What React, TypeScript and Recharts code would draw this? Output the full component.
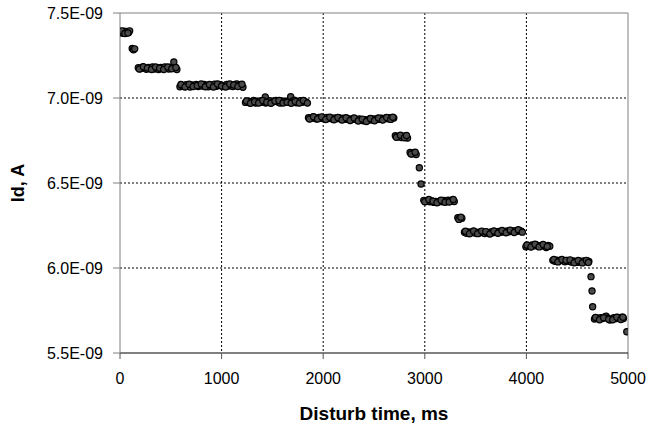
import React from "react";
import {
  ScatterChart,
  Scatter,
  XAxis,
  YAxis,
  CartesianGrid,
  ReferenceLine,
} from "recharts";

// Drain current Id in units of 1E-09 A, time in ms: [t, Id]
const step1: [number, number][] = [
  [10, 7.388], [25, 7.381], [40, 7.393], [55, 7.384], [70, 7.391], [85, 7.386], [95, 7.395],
  [18, 7.395], [48, 7.379], [78, 7.382],
];
const step2: [number, number][] = [
  [120, 7.291], [132, 7.284], [145, 7.289],
];
const step3: [number, number][] = [
  [180, 7.178], [200, 7.172], [220, 7.181], [240, 7.175], [260, 7.169], [280, 7.18],
  [300, 7.174], [320, 7.183], [340, 7.171], [360, 7.177], [380, 7.168], [400, 7.179],
  [420, 7.173], [440, 7.182], [460, 7.176], [480, 7.17], [500, 7.181], [520, 7.178],
  [530, 7.212], [540, 7.174], [560, 7.168],
  [190, 7.17], [230, 7.184], [270, 7.176], [310, 7.168], [350, 7.182], [390, 7.175],
  [430, 7.167], [470, 7.183], [510, 7.172], [550, 7.18],
];
const step4: [number, number][] = [
  [590, 7.066], [610, 7.074], [630, 7.069], [650, 7.078], [670, 7.071], [690, 7.065],
  [710, 7.077], [730, 7.072], [750, 7.08], [770, 7.068], [790, 7.075], [810, 7.07],
  [830, 7.079], [850, 7.073], [870, 7.066], [890, 7.076], [910, 7.071], [930, 7.081],
  [950, 7.069], [970, 7.074], [990, 7.078], [1010, 7.067], [1030, 7.073], [1050, 7.08],
  [1070, 7.07], [1090, 7.075], [1110, 7.068], [1130, 7.079], [1150, 7.082], [1170, 7.074],
  [1190, 7.077], [1210, 7.063],
  [600, 7.079], [640, 7.064], [680, 7.081], [720, 7.067], [760, 7.074], [800, 7.082],
  [840, 7.066], [880, 7.08], [920, 7.065], [960, 7.083], [1000, 7.071], [1040, 7.065],
  [1080, 7.082], [1120, 7.076], [1160, 7.067], [1200, 7.081],
];
const step5: [number, number][] = [
  [1235, 6.974], [1255, 6.981], [1275, 6.972], [1295, 6.979], [1315, 6.985], [1335, 6.97],
  [1355, 6.977], [1375, 6.983], [1395, 6.975], [1415, 6.98], [1430, 7.006], [1435, 6.971],
  [1455, 6.978], [1475, 6.984], [1495, 6.973], [1515, 6.979], [1535, 6.986], [1555, 6.976],
  [1575, 6.97], [1595, 6.982], [1615, 6.977], [1635, 6.98], [1655, 6.983], [1675, 6.974],
  [1680, 7.007], [1695, 6.98], [1715, 6.987], [1735, 6.972], [1755, 6.978], [1775, 6.984],
  [1795, 6.975], [1815, 6.981], [1835, 6.976],
  [1245, 6.983], [1285, 6.969], [1325, 6.978], [1365, 6.971], [1405, 6.986], [1445, 6.975],
  [1485, 6.969], [1525, 6.983], [1565, 6.985], [1605, 6.971], [1645, 6.975], [1685, 6.969],
  [1725, 6.979], [1765, 6.97], [1805, 6.986], [1845, 6.97],
];
const step6: [number, number][] = [
  [1855, 6.884], [1875, 6.879], [1895, 6.887], [1915, 6.881], [1935, 6.876], [1955, 6.886],
  [1975, 6.88], [1995, 6.884], [2015, 6.877], [2035, 6.885], [2055, 6.879], [2075, 6.883],
  [2095, 6.875], [2115, 6.882], [2135, 6.878], [2155, 6.884], [2175, 6.876], [2195, 6.881],
  [2215, 6.874], [2235, 6.88], [2255, 6.877], [2275, 6.872], [2295, 6.879], [2315, 6.874],
  [2335, 6.87], [2355, 6.877], [2375, 6.871], [2395, 6.866], [2415, 6.873], [2435, 6.868],
  [2455, 6.875], [2475, 6.87], [2495, 6.877], [2515, 6.872], [2535, 6.879], [2555, 6.874],
  [2575, 6.881], [2595, 6.876], [2615, 6.883], [2635, 6.878], [2655, 6.884], [2675, 6.879],
  [2695, 6.882],
  [1865, 6.876], [1905, 6.89], [1945, 6.877], [1985, 6.889], [2025, 6.873], [2065, 6.887],
  [2105, 6.872], [2145, 6.886], [2185, 6.871], [2225, 6.884], [2265, 6.868], [2305, 6.882],
  [2345, 6.865], [2385, 6.876], [2425, 6.862], [2465, 6.879], [2505, 6.866], [2545, 6.882],
  [2585, 6.87], [2625, 6.886], [2665, 6.874], [2685, 6.887],
];
const step7: [number, number][] = [
  [2710, 6.778], [2730, 6.77], [2750, 6.775], [2770, 6.768], [2790, 6.776], [2810, 6.771], [2830, 6.764],
  [2720, 6.769], [2760, 6.781], [2800, 6.766], [2820, 6.779],
];
const step8: [number, number][] = [
  [2855, 6.679], [2875, 6.672], [2895, 6.678], [2915, 6.668], [2865, 6.67], [2905, 6.681],
  [2946, 6.59], [2963, 6.494],
];
const step9: [number, number][] = [
  [2990, 6.398], [3010, 6.391], [3030, 6.397], [3050, 6.389], [3070, 6.394], [3090, 6.386],
  [3110, 6.392], [3130, 6.388], [3150, 6.395], [3170, 6.39], [3190, 6.397], [3210, 6.392],
  [3230, 6.399], [3250, 6.394], [3270, 6.4], [3290, 6.391],
  [3000, 6.389], [3040, 6.403], [3080, 6.393], [3120, 6.384], [3160, 6.399], [3200, 6.387],
  [3240, 6.388], [3280, 6.403],
];
const step10: [number, number][] = [
  [3325, 6.296], [3345, 6.289], [3365, 6.293], [3335, 6.286], [3355, 6.299],
];
const step11: [number, number][] = [
  [3390, 6.21], [3410, 6.204], [3430, 6.212], [3450, 6.207], [3470, 6.214], [3490, 6.206],
  [3510, 6.211], [3530, 6.205], [3550, 6.213], [3570, 6.208], [3590, 6.203], [3610, 6.21],
  [3630, 6.206], [3650, 6.212], [3670, 6.207], [3690, 6.213], [3710, 6.209], [3730, 6.215],
  [3750, 6.21], [3770, 6.216], [3790, 6.212], [3810, 6.218], [3830, 6.213], [3850, 6.219],
  [3870, 6.215], [3890, 6.22], [3910, 6.216], [3930, 6.221], [3950, 6.217],
  [3400, 6.216], [3440, 6.201], [3480, 6.218], [3520, 6.202], [3560, 6.217], [3600, 6.214],
  [3640, 6.2], [3680, 6.218], [3720, 6.204], [3760, 6.221], [3800, 6.207], [3840, 6.223],
  [3880, 6.209], [3920, 6.225], [3960, 6.211],
];
const step12: [number, number][] = [
  [3995, 6.125], [4015, 6.132], [4035, 6.128], [4055, 6.135], [4075, 6.13], [4095, 6.137],
  [4115, 6.131], [4135, 6.127], [4155, 6.134], [4175, 6.129], [4195, 6.121], [4215, 6.132],
  [4230, 6.128],
  [4005, 6.136], [4045, 6.123], [4085, 6.14], [4125, 6.124], [4165, 6.138], [4205, 6.126],
];
const step13: [number, number][] = [
  [4260, 6.045], [4280, 6.039], [4300, 6.046], [4320, 6.041], [4340, 6.048], [4360, 6.043],
  [4380, 6.037], [4400, 6.044], [4420, 6.04], [4440, 6.035], [4460, 6.042], [4480, 6.038],
  [4500, 6.033], [4520, 6.04], [4540, 6.036], [4560, 6.041], [4580, 6.037], [4600, 6.042],
  [4615, 6.038],
  [4270, 6.05], [4310, 6.036], [4350, 6.05], [4390, 6.045], [4430, 6.048], [4470, 6.031],
  [4510, 6.044], [4550, 6.03], [4590, 6.045], [4610, 6.032],
  [4636, 5.949], [4646, 5.865], [4652, 5.772],
];
const step14: [number, number][] = [
  [4670, 5.7], [4690, 5.706], [4710, 5.701], [4730, 5.708], [4750, 5.703], [4770, 5.712],
  [4785, 5.716], [4800, 5.705], [4820, 5.694], [4840, 5.701], [4860, 5.707], [4880, 5.702],
  [4900, 5.709], [4920, 5.704], [4940, 5.71], [4955, 5.703],
  [4680, 5.709], [4720, 5.696], [4760, 5.707], [4810, 5.699], [4850, 5.696], [4890, 5.71],
  [4930, 5.697], [4950, 5.711],
  [4988, 5.625],
];

const xTicks = [0, 1000, 2000, 3000, 4000, 5000];
const yTicks = [5.5, 6.0, 6.5, 7.0, 7.5];
const yTickLabels = ["5.5E-09", "6.0E-09", "6.5E-09", "7.0E-09", "7.5E-09"];

const allPoints = [
  ...step1, ...step2, ...step3, ...step4, ...step5, ...step6, ...step7,
  ...step8, ...step9, ...step10, ...step11, ...step12, ...step13, ...step14,
];
const data = allPoints.map(([t, v]) => ({ t, v }));

const FONT = "'Liberation Sans', Arial, sans-serif";

const Dot = (props: any) => {
  const { cx, cy } = props;
  if (cx == null || cy == null) return null;
  return <circle cx={cx} cy={cy} r={3.1} fill="#4a4a4a" stroke="#000" strokeWidth={1.2} />;
};

export default function App() {
  return (
    <div style={{ position: "absolute", left: 0, top: 0, width: 669, height: 426, background: "#fff" }}>
      <ScatterChart
        width={669}
        height={426}
        margin={{ top: 13, right: 41, bottom: 0, left: 0 }}
        style={{ fontFamily: FONT }}
      >
        <CartesianGrid
          stroke="#000"
          strokeDasharray="2 2"
          strokeWidth={1}
          horizontalValues={[6.0, 6.5, 7.0]}
          verticalValues={[1000, 2000, 3000, 4000]}
        />
        <XAxis
          type="number"
          dataKey="t"
          domain={[0, 5000]}
          ticks={xTicks}
          height={73}
          tickSize={6}
          tickMargin={14}
          axisLine={{ stroke: "#000", strokeWidth: 1 }}
          tickLine={{ stroke: "#555" }}
          tick={{ fill: "#000", fontSize: 16, fontFamily: FONT }}
          allowDataOverflow
          label={{
            content: (p: any) => {
              const vb = p.viewBox || {};
              return (
                <text
                  x={vb.x + vb.width / 2}
                  y={vb.y + 67}
                  textAnchor="middle"
                  fontSize={19}
                  fontWeight="bold"
                  fontFamily={FONT}
                  fill="#000"
                >
                  Disturb time, ms
                </text>
              );
            },
          }}
        />
        <YAxis
          type="number"
          dataKey="v"
          domain={[5.5, 7.5]}
          ticks={yTicks}
          width={120}
          tickSize={7}
          tickMargin={10}
          axisLine={{ stroke: "#808080", strokeWidth: 1 }}
          tickLine={{ stroke: "#808080" }}
          tick={{ fill: "#000", fontSize: 16, fontFamily: FONT }}
          tickFormatter={(v: number) => yTickLabels[yTicks.indexOf(v)] ?? String(v)}
          allowDataOverflow
          label={{
            content: (p: any) => {
              const vb = p.viewBox || {};
              const x = vb.x + 24;
              const y = vb.y + vb.height / 2;
              return (
                <text
                  x={x}
                  y={y}
                  transform={`rotate(-90, ${x}, ${y})`}
                  textAnchor="middle"
                  fontSize={18}
                  fontWeight="bold"
                  fontFamily={FONT}
                  fill="#000"
                >
                  Id, A
                </text>
              );
            },
          }}
        />
        <ReferenceLine y={7.5} stroke="#808080" strokeWidth={1} />
        <ReferenceLine x={5000} stroke="#808080" strokeWidth={1} />
        <Scatter data={data} shape={Dot} isAnimationActive={false} />
      </ScatterChart>
    </div>
  );
}
